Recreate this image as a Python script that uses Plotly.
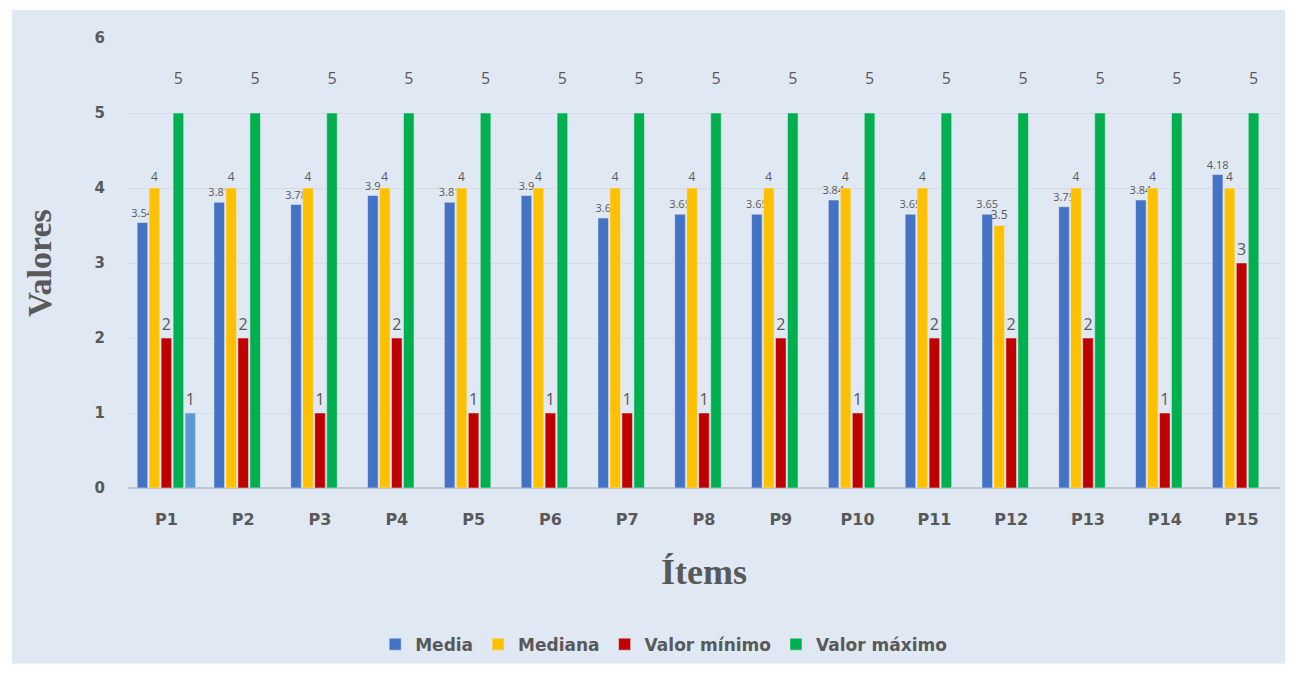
import plotly.graph_objects as go

items = ["P1", "P2", "P3", "P4", "P5", "P6", "P7", "P8", "P9", "P10",
         "P11", "P12", "P13", "P14", "P15"]
media = [3.54, 3.81, 3.78, 3.9, 3.81, 3.9, 3.6, 3.65, 3.65, 3.84,
         3.65, 3.65, 3.75, 3.84, 4.18]
mediana = [4, 4, 4, 4, 4, 4, 4, 4, 4, 4, 4, 3.5, 4, 4, 4]
valor_min = [2, 2, 1, 2, 1, 1, 1, 1, 2, 1, 2, 2, 2, 1, 3]
valor_max = [5, 5, 5, 5, 5, 5, 5, 5, 5, 5, 5, 5, 5, 5, 5]
extra = [1] + [None] * 14

grey = "#595959"
bg = "#dfe8f3"

fig = go.Figure()
fig.add_bar(x=items, y=media, name="Media", marker_color="#4472c4",
            text=[str(v) for v in media], textposition="outside",
            textfont=dict(size=11, color=grey))
fig.add_bar(x=items, y=mediana, name="Mediana", marker_color="#ffc000",
            text=[str(v) for v in mediana], textposition="outside",
            textfont=dict(size=12, color=grey))
fig.add_bar(x=items, y=valor_min, name="Valor mínimo", marker_color="#c00000",
            text=[str(v) for v in valor_min], textposition="outside",
            textfont=dict(size=16, color=grey))
fig.add_bar(x=items, y=valor_max, name="Valor máximo", marker_color="#00b050",
            text=[f"{v}<br> " for v in valor_max], textposition="outside",
            textfont=dict(size=16, color=grey))
fig.add_bar(x=items, y=extra, name="", marker_color="#5b9bd5", showlegend=False,
            text=["1" if v else "" for v in extra], textposition="outside",
            textfont=dict(size=16, color=grey))
fig.update_traces(constraintext="none", cliponaxis=False)

# chart area background with white frame around it
fig.add_shape(type="rect", xref="paper", yref="paper",
              x0=-0.1007, x1=1.0043, y0=-0.39, y1=1.062,
              fillcolor=bg, line_width=0, layer="below")

fig.update_layout(
    width=1277, height=658,
    margin=dict(l=120, r=5, t=30, b=177),
    paper_bgcolor="white", plot_bgcolor="rgba(0,0,0,0)",
    barmode="group", bargap=0.22, bargroupgap=0.12,
    font=dict(family="Open Sans", color=grey),
    legend=dict(orientation="h", x=0.465, xanchor="center", y=-0.345, yanchor="middle",
                bgcolor="rgba(0,0,0,0)",
                font=dict(size=17, color=grey, family="DejaVu Sans", weight="bold"),
                itemwidth=30, traceorder="normal"),
)
fig.update_xaxes(title=dict(text="<b>Ítems</b>", font=dict(size=36, family="Liberation Serif", color=grey),
                            standoff=30),
                 tickfont=dict(size=16, color=grey, family="DejaVu Sans", weight="bold"),
                 ticklabelstandoff=20, showline=False)
fig.update_yaxes(range=[0, 6], dtick=1,
                 title=dict(text="<b>Valores</b>", font=dict(size=34, family="Liberation Serif", color=grey),
                            standoff=32),
                 tickfont=dict(size=15, color=grey, family="DejaVu Sans", weight="bold"),
                 gridcolor="#d3dbe5", zerolinecolor="#bcc5d0", ticklabelstandoff=22)

fig.write_html("out.html")
